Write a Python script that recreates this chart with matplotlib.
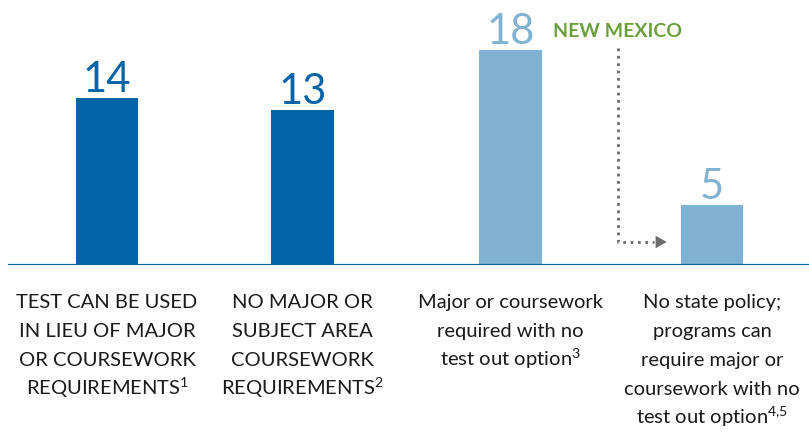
import matplotlib

matplotlib.use("Agg")

import matplotlib.pyplot as plt

plt.rcParams["mathtext.fontset"] = "custom"
plt.rcParams["mathtext.rm"] = "Lato"
plt.rcParams["mathtext.it"] = "Lato"
plt.rcParams["mathtext.default"] = "rm"

categories = [
    "TEST CAN BE USED\nIN LIEU OF MAJOR\nOR COURSEWORK\nREQUIREMENTS$^{1}$",
    "NO MAJOR OR\nSUBJECT AREA\nCOURSEWORK\nREQUIREMENTS$^{2}$",
    "Major or coursework\nrequired with no\ntest out option$^{3}$",
    "No state policy;\nprograms can\nrequire major or\ncoursework with no\ntest out option$^{4{,}5}$",
]
counts = [14, 13, 18, 5]

DARK_BLUE = "#0064a7"
LIGHT_BLUE = "#80b2d3"
GREEN = "#6a9f3b"
GREY = "#6b6b6b"
bar_colors = [DARK_BLUE, DARK_BLUE, LIGHT_BLUE, LIGHT_BLUE]
x_pos = [0, 0.97, 2.0, 3.0]
FONT = ["Lato", "DejaVu Sans"]

fig = plt.figure(figsize=(8.09, 4.32), dpi=100)
ax = fig.add_axes([0, 167 / 432, 1, 265 / 432])
ax.set_xlim(-107 / 201.7, 702 / 201.7)
ax.set_ylim(0, 265 / 11.93)
ax.axis("off")

ax.bar(x_pos, counts, width=0.31, color=bar_colors, zorder=2)
ax.axhline(0, xmin=9 / 809, xmax=1, color=DARK_BLUE, linewidth=2.3, zorder=3)

for x, value, color in zip(x_pos, counts, bar_colors):
    ax.annotate(
        str(value), (x, value), xytext=(0, 4.5), textcoords="offset points",
        ha="center", va="baseline", fontsize=30, color=color, family=FONT,
    )

# one text per line so the superscript lines keep the same spacing
for x, label in zip(x_pos, categories):
    for i, line in enumerate(label.split("\n")):
        ax.annotate(
            line, (x, 0), xytext=(0, -31 - i * 20.9), textcoords="offset points",
            ha="center", va="baseline", fontsize=14.5, family=FONT,
            color="#1a1a1a",
        )

# New Mexico callout
ax.text(2.53, 19.1, "NEW MEXICO", ha="center", va="baseline", fontsize=14,
        fontweight="bold", color=GREEN, family=FONT)
ax.plot([2.533, 2.533, 2.71], [18.2, 1.93, 1.93], color=GREY, linestyle=":",
        linewidth=2, zorder=1)
ax.annotate("", xy=(2.775, 1.93), xytext=(2.70, 1.93),
            arrowprops=dict(arrowstyle="-|>,head_length=0.8,head_width=0.45",
                            color=GREY, linewidth=0, shrinkA=0, shrinkB=0))

fig.savefig("out.png", dpi=100)
